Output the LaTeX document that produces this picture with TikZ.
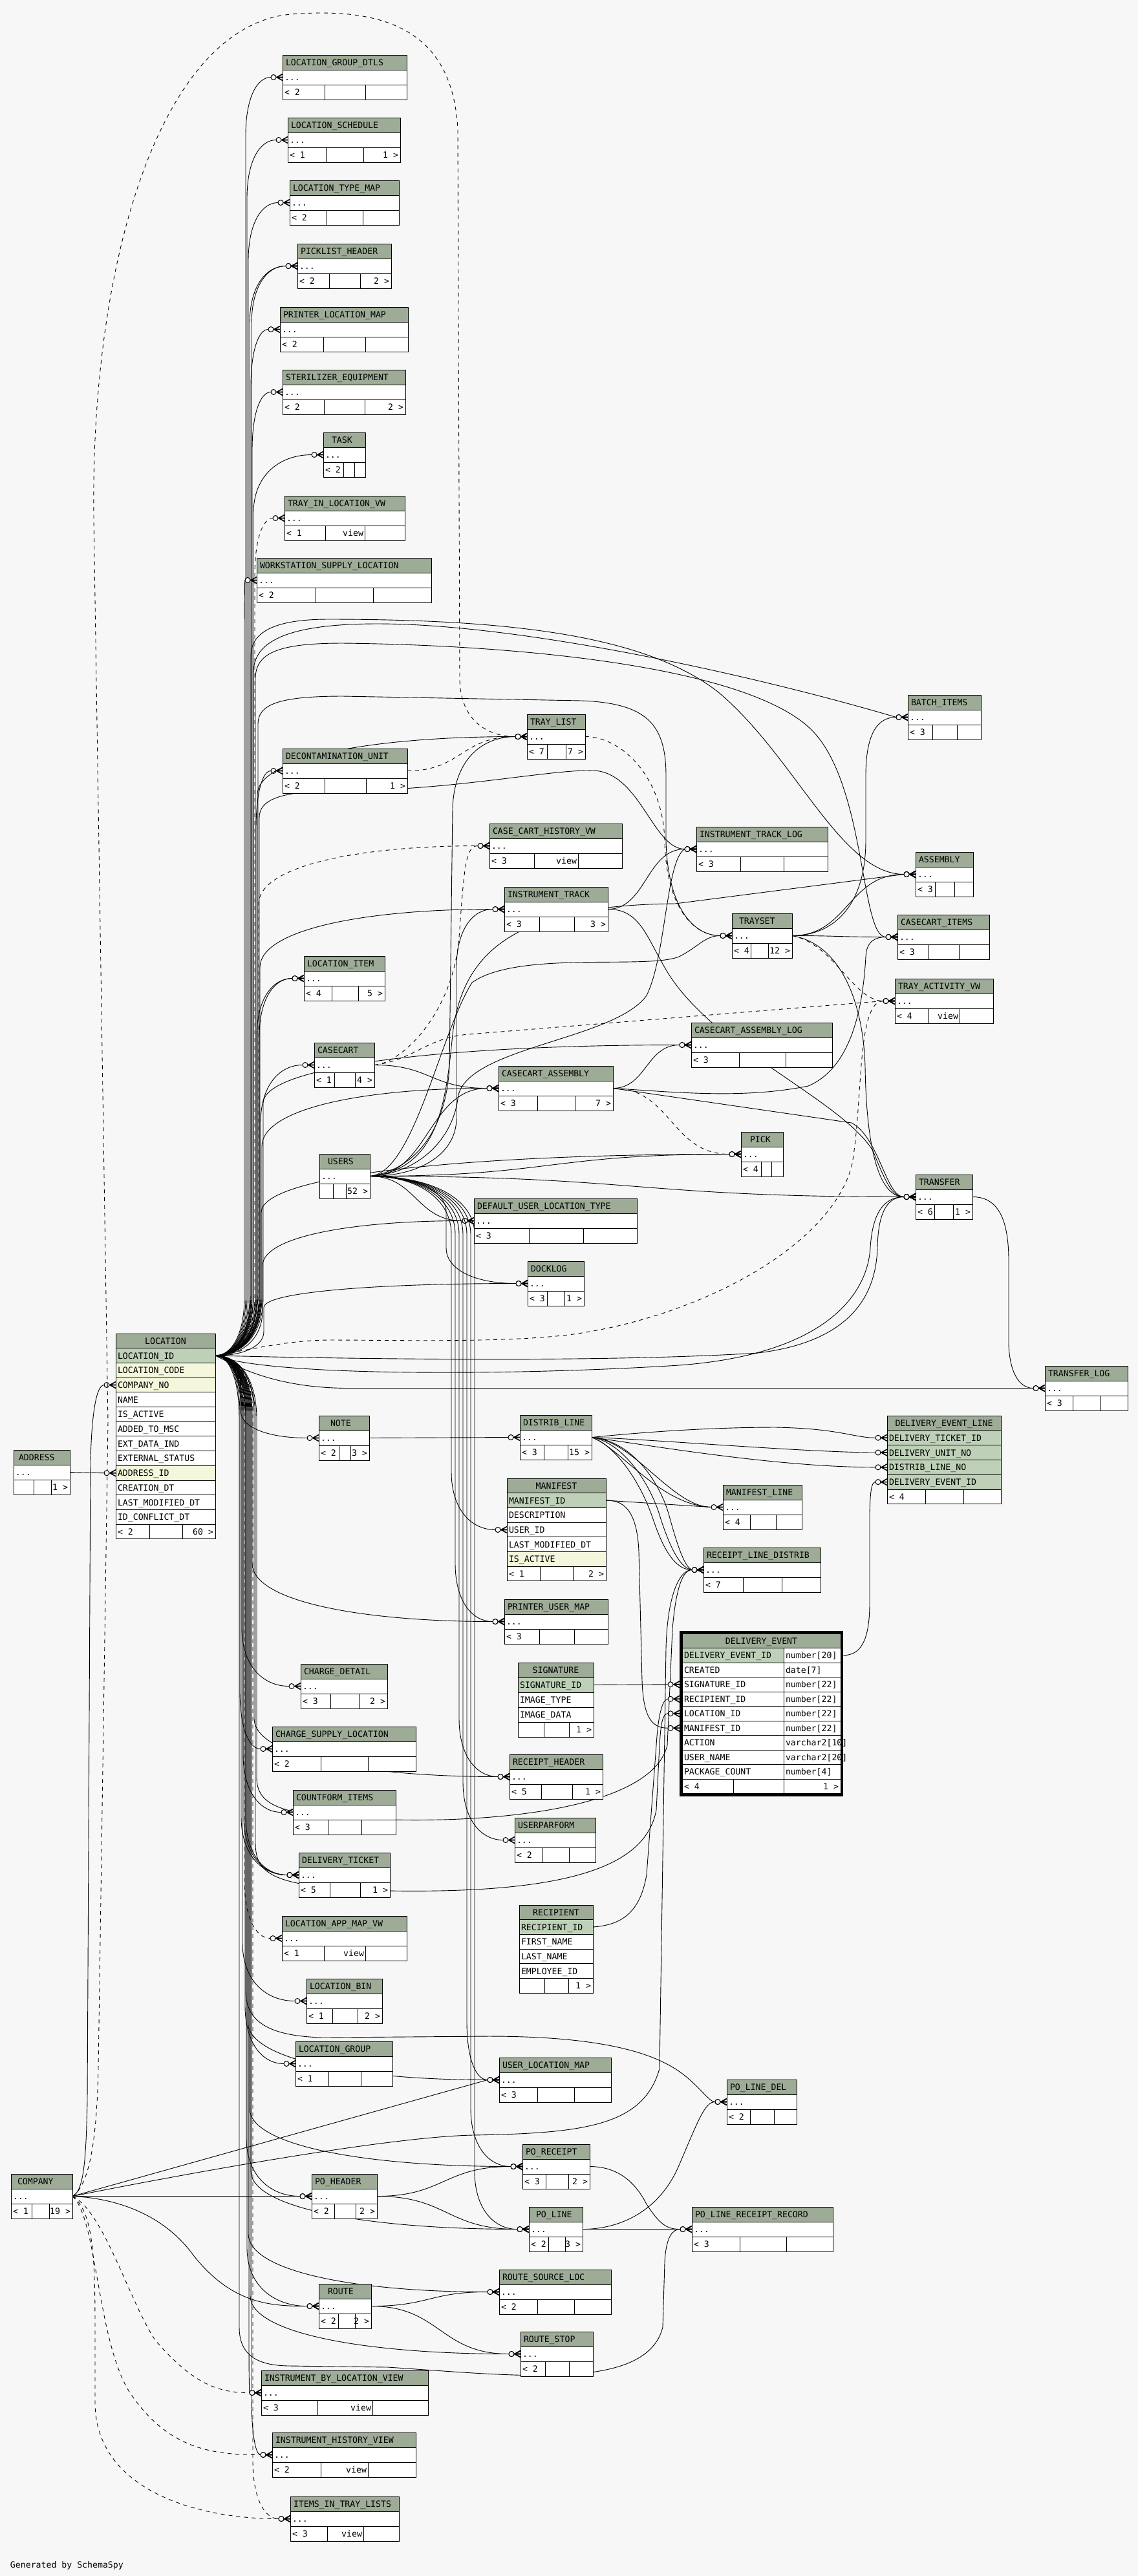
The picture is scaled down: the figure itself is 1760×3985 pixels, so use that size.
\documentclass[tikz,border=0pt]{standalone}
\usepackage{fontspec}
\setmonofont{DejaVu Sans Mono}
\usetikzlibrary{calc}
\definecolor{bgc}{HTML}{F7F7F7}
\definecolor{hdrc}{HTML}{9DAB97}
\definecolor{pkc}{HTML}{BED1B8}
\definecolor{idx}{HTML}{F4F7DB}
\pgfdeclarelayer{back}\pgfdeclarelayer{edges}\pgfsetlayers{back,edges,main}
\tikzset{
 bx/.style={draw=black,line width=0.5pt},
 txt/.style={inner sep=0pt,outer sep=0pt,font=\ttfamily\fontsize{6.6}{7}\selectfont,text=black},
 ed/.style={draw=black,line width=0.45pt},
 dsh/.style={dash pattern=on 3pt off 3pt},
 mk/.style={draw=black,fill=bgc,line width=0.5pt},
 mkl/.style={draw=black,line width=0.8pt},
}
\newcommand\zPX[1]{\csname zPXx#1\endcsname}
\newcommand\zPY[1]{\csname zPYy#1\endcsname}
\newcommand\zanc[3]{\coordinate (#1) at (#2,#3);\coordinate (#1-e) at (#2-18,#3);%
  \expandafter\xdef\csname zPXx#1\endcsname{#2}\expandafter\xdef\csname zPYy#1\endcsname{#3}}
\newcommand\zTT{5}
\newcommand\zMID{}
% simple collapsed table
\newcommand\ztb[9]{%
 \pgfmathsetmacro\ztbR{#2+#4}%
 \fill[hdrc] (#2,#3) rectangle (\ztbR,#3+23);
 \fill[white] (#2,#3+23) rectangle (\ztbR,#3+69);
 \draw[bx] (#2,#3) rectangle (\ztbR,#3+69)
   (#2,#3+23) -- (\ztbR,#3+23) (#2,#3+46) -- (\ztbR,#3+46)
   (#2+#5,#3+46) -- (#2+#5,#3+69) (#2+#6,#3+46) -- (#2+#6,#3+69);
 \node[txt,anchor=base west] (#1) at (#2+\zTT,#3+16.5) {#7};
 \node[txt,anchor=base west] at (#2+3,#3+39.5) {...};
 \node[txt,anchor=base west] at (#2+3,#3+62.5) {#8};
 \node[txt,anchor=base east] at (#2+#6-2,#3+62.5) {\zMID};
 \node[txt,anchor=base east] at (\ztbR-3,#3+62.5) {#9};
 \zanc{#1l}{#2}{#3+34.5}\zanc{#1r}{\ztbR}{#3+34.5}}
% table with columns
\newcommand\zct[7]{%
 \pgfmathsetmacro\zctR{#2+#4}%
 \xdef\zctX{#2}\xdef\zctY{#3}\xdef\zctW{#4}\xdef\zctH{#5}%
 \filldraw[fill=hdrc,bx] (#2,#3) rectangle (\zctR,#3+#5);
 \node[txt,anchor=base] (#1) at (#2+#4/2,#3+#5*0.72) {#6};
 \foreach \rc/\rt [count=\ri] in {#7}{%
   \filldraw[fill=\rc,bx] (#2,#3+\ri*#5) rectangle (\zctR,#3+\ri*#5+#5);
   \node[txt,anchor=base west] at (#2+3,#3+\ri*#5+#5*0.72) {\rt};
   \xdef\zctN{\ri}}%
}
\newcommand\zcf[4]{%
 \pgfmathsetmacro\zcfy{\zctY+(\zctN+1)*\zctH}\pgfmathsetmacro\zcfR{\zctX+\zctW}%
 \filldraw[fill=white,bx] (\zctX,\zcfy) rectangle (\zcfR,\zcfy+\zctH);
 \draw[bx] (\zctX+#1,\zcfy) -- ++(0,\zctH) (\zctX+#2,\zcfy) -- ++(0,\zctH);
 \node[txt,anchor=base west] at (\zctX+3,\zcfy+\zctH*0.72) {#3};
 \node[txt,anchor=base east] at (\zcfR-3,\zcfy+\zctH*0.72) {#4};}
% crow's foot with circle
\newcommand\zfk[1]{%
 \pgfmathsetmacro\zmx{\zPX{#1}}\pgfmathsetmacro\zmy{\zPY{#1}}%
 \draw[mk] (\zmx-14,\zmy) circle[radius=4];
 \draw[mkl] (\zmx-10,\zmy) -- (\zmx,\zmy) (\zmx-9,\zmy) -- (\zmx,\zmy-5) (\zmx-9,\zmy) -- (\zmx,\zmy+5);}
% bundle edge
\newcommand\zfan[4][]{%
 \pgfmathsetmacro\zsx{\zPX{#2}}\pgfmathsetmacro\zsy{\zPY{#2}}%
 \pgfmathsetmacro\ztx{\zPX{#3}-18}\pgfmathsetmacro\zty{\zPY{#3}}%
 \pgfmathsetmacro\zdd{sign(\zty-\zsy)*min(abs(\zty-\zsy)/3,90)}%
 \pgfmathsetmacro\zca{\zsx+0.6*(#4-\zsx)}%
 \pgfmathsetmacro\zcb{#4+0.45*(\ztx-#4)}%
 \draw[ed,#1] (#2) .. controls (\zca,\zsy) and (#4,\zsy+0.4*\zdd) .. (#4,\zsy+\zdd)
   -- (#4,\zty-\zdd) .. controls (#4,\zty-0.35*\zdd) and (\zcb,\zty) .. (\ztx,\zty);
 \zfk{#3}}
% S-curve edge
\newcommand\zsc[3][]{%
 \pgfmathsetmacro\zsx{\zPX{#2}}\pgfmathsetmacro\zsy{\zPY{#2}}%
 \pgfmathsetmacro\ztx{\zPX{#3}-18}\pgfmathsetmacro\zty{\zPY{#3}}%
 \pgfmathsetmacro\zmm{(\zsx+\ztx)/2}%
 \draw[ed,#1] (#2) .. controls (\zmm,\zsy) and (\zmm,\zty) .. (\ztx,\zty);
 \zfk{#3}}
\newcommand\zLU[2]{(LOCpk) .. controls ({0.4*333+0.6*#1},2097) and (#1,2060) .. (#1,2000) -- (#1,#2)}
\newcommand\zLD[2]{(LOCpk) .. controls ({0.4*333+0.6*#1},2097) and (#1,2135) .. (#1,2195) -- (#1,#2)}
\begin{document}
\begin{tikzpicture}[x=0.5pt,y=-0.5pt]
\useasboundingbox (0,0) rectangle (1760,3985);
\begin{pgfonlayer}{back}
\fill[bgc] (0,0) rectangle (1760,3985);
\end{pgfonlayer}
% ---------------- tables
\ztb{lgd}{437}{85}{192}{65}{128}{LOCATION\_GROUP\_DTLS}{< 2}{}
\ztb{lsch}{445}{182}{174}{59}{117}{LOCATION\_SCHEDULE}{< 1}{1 >}
\ztb{ltm}{448}{279}{169}{57}{113}{LOCATION\_TYPE\_MAP}{< 2}{}
\ztb{plh}{460}{377}{145}{49}{97}{PICKLIST\_HEADER}{< 2}{2 >}
\ztb{plm}{433}{475}{198}{67}{132}{PRINTER\_LOCATION\_MAP}{< 2}{}
\ztb{ste}{437}{572}{190}{64}{127}{STERILIZER\_EQUIPMENT}{< 2}{2 >}
{\def\zTT{13}\ztb{task}{500}{669}{65}{31}{48}{TASK}{< 2}{}}
{\def\zMID{view}\ztb{tilv}{440}{767}{186}{63}{124}{TRAY\_IN\_LOCATION\_VW}{< 1}{}}
\ztb{wsl}{397}{863}{270}{91}{180}{WORKSTATION\_SUPPLY\_LOCATION}{< 2}{}
\ztb{batch}{1404}{1075}{113}{38}{76}{BATCH\_ITEMS}{< 3}{}
\ztb{tray}{815}{1105}{90}{31}{60}{TRAY\_LIST}{< 7}{7 >}
\ztb{decon}{437}{1158}{193}{65}{129}{DECONTAMINATION\_UNIT}{< 2}{1 >}
{\def\zMID{view}\ztb{cchv}{757}{1274}{205}{69}{137}{CASE\_CART\_HISTORY\_VW}{< 3}{}}
\ztb{itlog}{1077}{1279}{203}{68}{135}{INSTRUMENT\_TRACK\_LOG}{< 3}{}
\ztb{asm}{1416}{1318}{89}{30}{60}{ASSEMBLY}{< 3}{}
\ztb{itrk}{780}{1372}{160}{54}{108}{INSTRUMENT\_TRACK}{< 3}{3 >}
{\def\zTT{11}\ztb{tset}{1132}{1413}{93}{29}{56}{TRAYSET}{< 4}{12 >}}
\ztb{cci}{1388}{1415}{142}{48}{95}{CASECART\_ITEMS}{< 3}{}
\ztb{litem}{470}{1479}{125}{43}{84}{LOCATION\_ITEM}{< 4}{5 >}
{\def\zMID{view}\ztb{tav}{1384}{1514}{152}{51}{100}{TRAY\_ACTIVITY\_VW}{< 4}{}}
\ztb{ccalog}{1069}{1582}{218}{74}{146}{CASECART\_ASSEMBLY\_LOG}{< 3}{}
\ztb{cc}{486}{1613}{93}{31}{63}{CASECART}{< 1}{4 >}
\ztb{cca}{771}{1649}{177}{60}{118}{CASECART\_ASSEMBLY}{< 3}{7 >}
{\def\zTT{14}\ztb{pick}{1146}{1751}{65}{31}{47}{PICK}{< 4}{}}
{\def\zTT{13}\ztb{users}{494}{1785}{78}{21}{41}{USERS}{}{52 >}}
\ztb{trf}{1416}{1817}{88}{29}{58}{TRANSFER}{< 6}{1 >}
\ztb{dult}{733}{1854}{252}{85}{169}{DEFAULT\_USER\_LOCATION\_TYPE}{< 3}{}
\ztb{dock}{816}{1951}{87}{30}{57}{DOCKLOG}{< 3}{1 >}
\ztb{tlog}{1616}{2113}{128}{43}{86}{TRANSFER\_LOG}{< 3}{}
{\def\zTT{18}\ztb{note}{493}{2190}{78}{31}{49}{NOTE}{< 2}{3 >}}
\ztb{dl}{804}{2189}{111}{37}{74}{DISTRIB\_LINE}{< 3}{15 >}
\ztb{ml}{1118}{2297}{122}{42}{82}{MANIFEST\_LINE}{< 4}{}
\ztb{rld}{1088}{2394}{181}{61}{121}{RECEIPT\_LINE\_DISTRIB}{< 7}{}
\ztb{pum}{780}{2474}{160}{54}{108}{PRINTER\_USER\_MAP}{< 3}{}
\ztb{cd}{465}{2574}{134}{46}{90}{CHARGE\_DETAIL}{< 3}{2 >}
\ztb{csl}{421}{2671}{222}{75}{148}{CHARGE\_SUPPLY\_LOCATION}{< 2}{}
\ztb{rh}{788}{2714}{144}{49}{97}{RECEIPT\_HEADER}{< 5}{1 >}
\ztb{cfi}{453}{2769}{159}{54}{106}{COUNTFORM\_ITEMS}{< 3}{}
\ztb{upf}{796}{2812}{125}{42}{84}{USERPARFORM}{< 2}{}
\ztb{dt}{462}{2866}{141}{48}{95}{DELIVERY\_TICKET}{< 5}{1 >}
{\def\zMID{view}\ztb{lamv}{436}{2964}{193}{65}{129}{LOCATION\_APP\_MAP\_VW}{< 1}{}}
\ztb{lbin}{474}{3061}{117}{40}{79}{LOCATION\_BIN}{< 1}{2 >}
\ztb{lgrp}{457}{3158}{150}{51}{101}{LOCATION\_GROUP}{< 1}{}
\ztb{ulm}{772}{3183}{173}{59}{116}{USER\_LOCATION\_MAP}{< 3}{}
\ztb{pld}{1124}{3217}{108}{36}{73}{PO\_LINE\_DEL}{< 2}{}
\ztb{por}{808}{3317}{104}{36}{71}{PO\_RECEIPT}{< 3}{2 >}
{\def\zTT{10}\ztb{comp}{17}{3363}{95}{32}{59}{COMPANY}{< 1}{19 >}}
\ztb{poh}{482}{3363}{101}{35}{68}{PO\_HEADER}{< 2}{2 >}
{\def\zTT{11}\ztb{pol}{818}{3414}{83}{30}{56}{PO\_LINE}{< 2}{3 >}}
\ztb{plrr}{1070}{3414}{218}{74}{146}{PO\_LINE\_RECEIPT\_RECORD}{< 3}{}
\ztb{rsl}{772}{3511}{173}{59}{116}{ROUTE\_SOURCE\_LOC}{< 2}{}
{\def\zTT{14}\ztb{route}{493}{3533}{81}{30}{56}{ROUTE}{< 2}{2 >}}
\ztb{rstop}{805}{3607}{112}{38}{75}{ROUTE\_STOP}{< 2}{}
{\def\zMID{view}\ztb{iblv}{404}{3667}{258}{87}{172}{INSTRUMENT\_BY\_LOCATION\_VIEW}{< 3}{}}
{\def\zMID{view}\ztb{ihv}{421}{3763}{222}{75}{148}{INSTRUMENT\_HISTORY\_VIEW}{< 2}{}}
{\def\zMID{view}\ztb{iitl}{449}{3862}{168}{57}{113}{ITEMS\_IN\_TRAY\_LISTS}{< 3}{}}
{\def\zTT{8}\ztb{addr}{21}{2243}{87}{31}{58}{ADDRESS}{}{1 >}}
% column tables
\zct{loc}{179}{2063}{154}{22.7}{LOCATION}{pkc/LOCATION\_ID,idx/LOCATION\_CODE,idx/COMPANY\_NO,white/NAME,white/IS\_ACTIVE,white/ADDED\_TO\_MSC,white/EXT\_DATA\_IND,white/EXTERNAL\_STATUS,idx/ADDRESS\_ID,white/CREATION\_DT,white/LAST\_MODIFIED\_DT,white/ID\_CONFLICT\_DT}
\zcf{52}{103}{< 2}{60 >}
\zanc{LOCpk}{333}{2097}
\zanc{LOCcomp}{179}{2142.5}
\zanc{LOCaddr}{179}{2278.7}
\zct{man}{784}{2287}{153}{22.7}{MANIFEST}{pkc/MANIFEST\_ID,white/DESCRIPTION,white/USER\_ID,white/LAST\_MODIFIED\_DT,idx/IS\_ACTIVE}
\zcf{51}{102}{< 1}{2 >}
\zanc{MANpk}{937}{2321}
\zanc{MANuser}{784}{2366.5}
\zct{sig}{801}{2572}{117}{23}{SIGNATURE}{pkc/SIGNATURE\_ID,white/IMAGE\_TYPE,white/IMAGE\_DATA}
\zcf{40}{79}{}{1 >}
\zanc{SIGpk}{918}{2606.5}
\zct{rec}{803}{2947}{114}{22.7}{RECIPIENT}{pkc/RECIPIENT\_ID,white/FIRST\_NAME,white/LAST\_NAME,white/EMPLOYEE\_ID}
\zcf{39}{76}{}{1 >}
\zanc{RECpk}{917}{2981}
\zct{del}{1372}{2190}{176}{22.8}{DELIVERY\_EVENT\_LINE}{pkc/DELIVERY\_TICKET\_ID,pkc/DELIVERY\_UNIT\_NO,pkc/DISTRIB\_LINE\_NO,pkc/DELIVERY\_EVENT\_ID}
\zcf{59}{118}{< 4}{}
\zanc{DELt}{1372}{2224.2}
\zanc{DELu}{1372}{2247}
\zanc{DELd}{1372}{2269.8}
\zanc{DELe}{1372}{2292.6}
% DELIVERY_EVENT
\filldraw[fill=hdrc,bx] (1055,2527) rectangle (1300,2549.5);
\node[txt,anchor=base] (de) at (1177.5,2543.2) {DELIVERY\_EVENT};
\foreach \rc/\ra/\rb [count=\ri] in {pkc/DELIVERY\_EVENT\_ID/number[20],white/CREATED/date[7],white/SIGNATURE\_ID/number[22],white/RECIPIENT\_ID/number[22],white/LOCATION\_ID/number[22],white/MANIFEST\_ID/number[22],white/ACTION/varchar2[10],white/USER\_NAME/varchar2[20],white/PACKAGE\_COUNT/number[4]}{
  \filldraw[fill=\rc,bx] (1055,2527+\ri*22.5) rectangle (1212,2549.5+\ri*22.5);
  \filldraw[fill=white,bx] (1212,2527+\ri*22.5) rectangle (1300,2549.5+\ri*22.5);
  \node[txt,anchor=base west] at (1058,2543.2+\ri*22.5) {\ra};
  \node[txt,anchor=base west] at (1215,2543.2+\ri*22.5) {\rb};}
\filldraw[fill=white,bx] (1055,2752) rectangle (1300,2774.5);
\draw[bx] (1134,2752) -- (1134,2774.5) (1212,2752) -- (1212,2774.5);
\node[txt,anchor=base west] at (1058,2768.2) {< 4};
\node[txt,anchor=base east] at (1297,2768.2) {1 >};
\draw[line width=2pt] (1053,2525) rectangle (1302,2776.5);
\zanc{DEpk}{1304}{2560.75}
\zanc{DEsig}{1051}{2605.75}
\zanc{DErec}{1051}{2628.25}
\zanc{DEloc}{1051}{2650.75}
\zanc{DEman}{1051}{2673.25}
\node[txt,anchor=base west] (gen) at (16,3972) {Generated by SchemaSpy};
% ---------------- edges
\begin{pgfonlayer}{edges}
% LOCATION upward bundle
\zfan{LOCpk}{lgdl}{380}
\zfan{LOCpk}{lschl}{382}
\zfan{LOCpk}{ltml}{384}
\zfan{LOCpk}{plhl}{386}
\zfan{LOCpk}{plhl}{389}
\zfan{LOCpk}{plml}{388}
\zfan{LOCpk}{stel}{390}
\zfan{LOCpk}{taskl}{392}
\zfan[dsh]{LOCpk}{tilvl}{394}
\zfan{LOCpk}{wsll}{378}
\zfan{LOCpk}{deconl}{396}
\zfan{LOCpk}{trayl}{398}
\zfan[dsh]{LOCpk}{cchvl}{400}
\zfan{LOCpk}{itrkl}{402}
\zfan{LOCpk}{liteml}{397}
\zfan{LOCpk}{liteml}{401}
\zfan{LOCpk}{ccl}{403}
\zfan{LOCpk}{ccal}{405}
\zfan{LOCpk}{ccalogl}{407}
\zfan{LOCpk}{pickl}{404}
\zfan{LOCpk}{dultl}{406}
\zfan{LOCpk}{dockl}{408}
% LOCATION long routes
\draw[ed] \zLU{392}{1040} .. controls (392,990) and (450,965) .. (584,965) .. controls (800,965) and (1150,1040) .. (batchl-e); \zfk{batchl}
\draw[ed] \zLU{388}{1015} .. controls (388,975) and (430,958) .. (508,958) .. controls (800,958) and (1000,985) .. (1110,1070) .. controls (1230,1170) and (1300,1352.5) .. (asml-e); \zfk{asml}
\draw[ed] \zLU{395}{1050} .. controls (395,1010) and (430,995) .. (530,995) .. controls (800,998) and (1150,1030) .. (1253,1127) .. controls (1340,1210) and (1330,1449.5) .. (ccil-e); \zfk{ccil}
\draw[ed] \zLU{399}{1120} .. controls (399,1090) and (430,1077) .. (530,1077) -- (900,1084) .. controls (1000,1088) and (1030,1120) .. (1030,1200) -- (1030,1300) .. controls (1032,1400) and (1070,1447.5) .. (tsetl-e); \zfk{tsetl}
\draw[ed] \zLU{401}{1265} .. controls (401,1238) and (430,1223) .. (530,1223) .. controls (700,1223) and (850,1190) .. (918,1192) .. controls (990,1195) and (1010,1313.5) .. (itlogl-e); \zfk{itlogl}
\draw[ed] (LOCpk) .. controls (450,2100) and (900,2110) .. (1172,2093) .. controls (1320,2075) and (1355,2000) .. (1357,1930) .. controls (1358,1880) and (1370,1851.5) .. (trfl-e); \zfk{trfl}
\draw[ed] (LOCpk) .. controls (420,2130) and (800,2128) .. (1050,2112) .. controls (1280,2095) and (1342,2000) .. (1346,1930) .. controls (1349,1880) and (1365,1851.5) .. (trfl-e);
\draw[ed] (LOCpk) .. controls (360,2110) and (420,2147.5) .. (540,2147.5) -- (tlogl-e); \zfk{tlogl}
\draw[ed,dsh] (LOCpk) .. controls (400,2085) and (450,2073) .. (512,2073) .. controls (620,2073) and (800,2078) .. (900,2062) .. controls (1100,2030) and (1290,1920) .. (1318,1800) .. controls (1335,1700) and (1325,1548.5) .. (tavl-e); \zfk{tavl}
% LOCATION downward bundle
\zfan{LOCpk}{notel}{372}
\zfan{LOCpk}{cdl}{374}
\zfan{LOCpk}{csll}{371}
\zfan{LOCpk}{cfil}{376}
\zfan{LOCpk}{dtl}{373}
\zfan{LOCpk}{dtl}{377}
\zfan{LOCpk}{dtl}{380}
\zfan[dsh]{LOCpk}{lamvl}{378}
\zfan{LOCpk}{lbinl}{375}
\zfan{LOCpk}{lgrpl}{379}
\zfan{LOCpk}{ulml}{383}
\zfan{LOCpk}{porl}{386}
\zfan{LOCpk}{pohl}{381}
\zfan{LOCpk}{poll}{388}
\zfan{LOCpk}{rsll}{384}
\zfan{LOCpk}{routel}{382}
\zfan{LOCpk}{rstopl}{387}
\zfan{LOCpk}{iblvl}{385}
\zfan{LOCpk}{ihvl}{389}
\zfan[dsh]{LOCpk}{iitll}{391}
\zfan{LOCpk}{puml}{390}
\zfan{LOCpk}{rhl}{393}
\draw[ed] \zLD{395}{2850} .. controls (395,2900) and (420,2920) .. (600,2925) .. controls (900,2930) and (1000,2880) .. (1015,2800) -- (1020,2700) .. controls (1022,2665) and (1025,2650.75) .. (DEloc-e); \zfk{DEloc}
\draw[ed] \zLD{397}{2750} .. controls (397,2800) and (450,2810) .. (600,2815) .. controls (800,2820) and (1010,2790) .. (1032,2700) -- (1040,2520) .. controls (1045,2460) and (1055,2428.5) .. (rldl-e); \zfk{rldl}
\draw[ed] \zLD{370}{3600} .. controls (370,3645) and (400,3660) .. (450,3660) -- (600,3662) .. controls (800,3675) and (1000,3700) .. (1025,3600) -- (1028,3500) .. controls (1030,3460) and (1040,3448.5) .. (plrrl-e); \zfk{plrrl}
\draw[ed] \zLD{380}{3080} .. controls (380,3130) and (420,3150) .. (500,3152) -- (755,3150) .. controls (1000,3150) and (1050,3200) .. (1080,3230) .. controls (1095,3245) and (1100,3251.5) .. (pldl-e); \zfk{pldl}
% COMPANY
\draw[ed] (compr) .. controls (130,3390) and (133,3340) .. (135,3250) -- (140,2260) .. controls (142,2180) and (150,2142.5) .. (LOCcomp-e); \zfk{LOCcomp}
\draw[ed] (compr) -- (ulml-e); \zfk{ulml}
\draw[ed] (compr) -- (pohl-e); \zfk{pohl}
\draw[ed] (compr) .. controls (170,3400) and (250,3420) .. (300,3490) .. controls (360,3565) and (420,3567.5) .. (routel-e); \zfk{routel}
\draw[ed] (compr) .. controls (300,3360) and (600,3306) .. (730,3303) .. controls (900,3300) and (995,3290) .. (1020,3200) -- (1030,2550) .. controls (1032,2470) and (1050,2428.5) .. (rldl-e); \zfk{rldl}
\draw[ed,dsh] (compr) .. controls (160,3420) and (200,3560) .. (240,3620) .. controls (300,3690) and (340,3701.5) .. (iblvl-e); \zfk{iblvl}
\draw[ed,dsh] (compr) .. controls (150,3430) and (150,3620) .. (200,3700) .. controls (260,3790) and (330,3797.5) .. (ihvl-e); \zfk{ihvl}
\draw[ed,dsh] (compr) .. controls (145,3420) and (147,3500) .. (147,3600) -- (147,3720) .. controls (150,3850) and (300,3896.5) .. (iitll-e); \zfk{iitll}
\draw[ed,dsh] (compr) .. controls (140,3380) and (150,3300) .. (152,3200) -- (167,2200) -- (145,800) .. controls (140,400) and (250,40) .. (450,22) .. controls (600,10) and (700,50) .. (708,200) -- (711,1050) .. controls (712,1120) and (760,1139.5) .. (trayl-e); \zfk{trayl}
% USERS
\draw[ed] (usersr) .. controls (640,1810) and (690,1750) .. (695,1650) -- (700,1250) .. controls (703,1170) and (750,1139.5) .. (trayl-e); \zfk{trayl}
\zfan{usersr}{itrkl}{706}
\draw[ed] (usersr) .. controls (650,1815) and (700,1760) .. (708,1700) .. controls (715,1620) and (950,1610) .. (1000,1540) .. controls (1030,1480) and (1030,1330) .. (itlogl-e); \zfk{itlogl}
\draw[ed] (usersr) .. controls (640,1815) and (680,1600) .. (730,1520) .. controls (800,1470) and (1000,1500) .. (1050,1480) .. controls (1080,1465) and (1090,1447.5) .. (tsetl-e); \zfk{tsetl}
\draw[ed] (usersr) .. controls (680,1810) and (690,1700) .. (700,1600) .. controls (715,1470) and (800,1400) .. (1044,1398) -- (asml-e); \zfk{asml}
\zsc{usersr}{ccal}
\zsc{usersr}{pickl}
\zsc{usersr}{trfl}
\zsc{usersr}{dultl}
\zfan{usersr}{dockl}{690}
\zfan{usersr}{MANuser}{698}
\zfan{usersr}{puml}{704}
\zfan{usersr}{rhl}{710}
\zfan{usersr}{upfl}{716}
\zfan{usersr}{ulml}{722}
\zfan{usersr}{porl}{728}
\zfan{usersr}{poll}{734}
% others
\draw[ed] (addrr) -- (LOCaddr-e); \zfk{LOCaddr}
\zsc[dsh]{deconr}{trayl}
\draw[ed,dsh] (trayr) .. controls (960,1139.5) and (1025,1200) .. (1028,1300) .. controls (1030,1400) and (1070,1447.5) .. (tsetl-e); \zfk{tsetl}
\zsc{ccr}{ccal}
\draw[ed,dsh] (ccr) .. controls (620,1645) and (700,1570) .. (710,1450) .. controls (718,1340) and (720,1308.5) .. (cchvl-e); \zfk{cchvl}
\draw[ed,dsh] (ccr) .. controls (640,1640) and (660,1605) .. (725,1600) -- (tavl-e); \zfk{tavl}
\zsc{itrkr}{itlogl}
\draw[ed] (itrkr) .. controls (990,1406) and (1000,1450) .. (1030,1500) .. controls (1100,1620) and (1300,1700) .. (1350,1780) .. controls (1370,1830) and (1380,1851.5) .. (trfl-e); \zfk{trfl}
\draw[ed] (tsetr) .. controls (1290,1447.5) and (1339,1400) .. (1339,1300) -- (1339,1200) .. controls (1339,1130) and (1360,1109.5) .. (batchl-e); \zfk{batchl}
\zsc{tsetr}{asml}
\zsc{tsetr}{ccil}
\draw[ed,dsh] (tsetr) .. controls (1290,1460) and (1320,1548.5) .. (tavl-e); \zfk{tavl}
\draw[ed] (tsetr) .. controls (1300,1460) and (1335,1550) .. (1338,1650) .. controls (1340,1780) and (1360,1851.5) .. (trfl-e); \zfk{trfl}
\zsc{ccar}{ccalogl}
\zsc[dsh]{ccar}{pickl}
\draw[ed] (ccar) -- (1317,1737) .. controls (1360,1760) and (1370,1851.5) .. (trfl-e); \zfk{trfl}
\draw[ed] (ccar) .. controls (1050,1690) and (1150,1700) .. (1250,1680) .. controls (1320,1650) and (1335,1550) .. (1339,1480) .. controls (1340,1455) and (1355,1449.5) .. (ccil-e); \zfk{ccil}
\draw[ed] (trfr) .. controls (1540,1851.5) and (1560,1880) .. (1560,1950) -- (1560,2080) .. controls (1562,2130) and (1580,2147.5) .. (tlogl-e); \zfk{tlogl}
\draw[ed] (noter) -- (dll-e); \zfk{dll}
\draw[ed] (dlr) .. controls (1000,2215) and (1100,2208) .. (1200,2208) .. controls (1300,2210) and (1320,2224.2) .. (DELt-e); \zfk{DELt}
\draw[ed] (dlr) .. controls (1000,2226) and (1250,2247) .. (DELu-e); \zfk{DELu}
\draw[ed] (dlr) .. controls (1000,2235) and (1200,2269.8) .. (DELd-e); \zfk{DELd}
\draw[ed] (dlr) .. controls (980,2228) and (1040,2331.5) .. (mll-e);
\draw[ed] (dlr) .. controls (960,2240) and (1020,2328) .. (mll-e);
\draw[ed] (dlr) .. controls (950,2235) and (990,2290) .. (1010,2350) .. controls (1030,2410) and (1050,2428.5) .. (rldl-e);
\draw[ed] (dlr) .. controls (960,2230) and (1005,2290) .. (1022,2350) .. controls (1040,2405) and (1055,2426) .. (rldl-e);
\draw[ed] (dlr) .. controls (975,2228) and (1020,2290) .. (1035,2345) .. controls (1050,2400) and (1060,2424) .. (rldl-e); \zfk{rldl}
\draw[ed] (MANpk) -- (mll-e); \zfk{mll}
\draw[ed] (MANpk) .. controls (960,2321) and (985,2330) .. (988,2400) -- (993,2600) .. controls (995,2660) and (1010,2673.25) .. (DEman-e); \zfk{DEman}
\draw[ed] (SIGpk) -- (DEsig-e); \zfk{DEsig}
\draw[ed] (RECpk) .. controls (960,2978) and (990,2960) .. (1000,2900) -- (1015,2700) .. controls (1018,2650) and (1025,2628.25) .. (DErec-e); \zfk{DErec}
\draw[ed] (DEpk) .. controls (1330,2560.75) and (1345,2540) .. (1345,2480) -- (1345,2340) .. controls (1346,2305) and (1348,2292.6) .. (DELe-e); \zfk{DELe}
\zsc{pohr}{porl}
\zsc{pohr}{poll}
\draw[ed] (polr) -- (plrrl-e); \zfk{plrrl}
\draw[ed] (polr) .. controls (960,3448.5) and (1020,3420) .. (1050,3350) .. controls (1080,3280) and (1090,3251.5) .. (pldl-e); \zfk{pldl}
\draw[ed] (porr) .. controls (950,3351.5) and (980,3370) .. (1000,3410) .. controls (1020,3440) and (1030,3448.5) .. (plrrl-e);
\zsc{router}{rsll}
\zsc{router}{rstopl}
\end{pgfonlayer}
\end{tikzpicture}
\end{document}
